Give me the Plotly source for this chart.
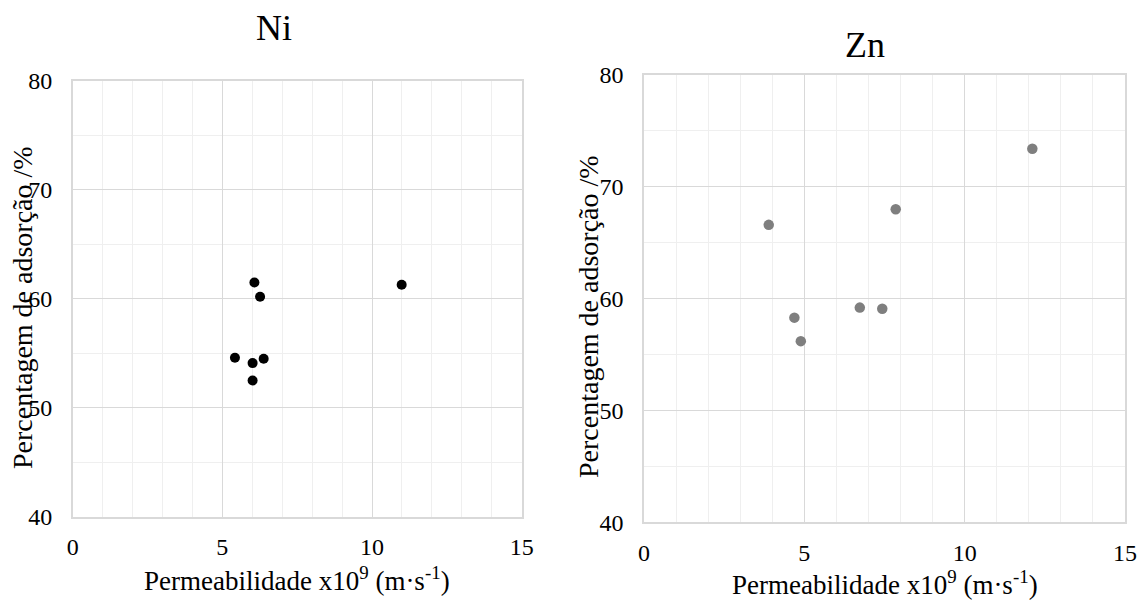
import plotly.graph_objects as go

# Data
ni_x = [6.07, 6.26, 10.99, 5.42, 6.01, 6.38, 6.01]
ni_y = [61.5, 60.2, 61.3, 54.6, 54.1, 54.5, 52.5]
zn_x = [12.11, 7.85, 3.89, 6.73, 7.43, 4.69, 4.89]
zn_y = [73.4, 68.0, 66.6, 59.2, 59.1, 58.3, 56.2]

titles = ["Ni", "Zn"]
x_title = "Permeabilidade x10<sup>9</sup> (m·s<sup>-1</sup>)"
y_title = "Percentagem de adsorção /%"

FONT = "Liberation Serif"
W, H = 1140, 601

fig = go.Figure()
fig.add_trace(go.Scatter(x=ni_x, y=ni_y, mode="markers",
                         marker=dict(color="#000000", size=10),
                         xaxis="x", yaxis="y", showlegend=False))
fig.add_trace(go.Scatter(x=zn_x, y=zn_y, mode="markers",
                         marker=dict(color="#7f7f7f", size=10.5),
                         xaxis="x2", yaxis="y2", showlegend=False))

def px_x(p):
    return p / W

def px_y(p):
    return (H - p) / H

grid_major = "#d9d9d9"
grid_minor = "#efefef"

def xax(domain, anchor):
    return dict(domain=domain, anchor=anchor, range=[0, 15], dtick=5, tick0=0,
                showgrid=True, gridcolor=grid_major, gridwidth=1.3,
                minor=dict(dtick=1, showgrid=True, gridcolor=grid_minor, gridwidth=1.3),
                showline=True, linecolor=grid_major, linewidth=1.5, mirror=True,
                zeroline=False, ticks="", ticklabelstandoff=8, automargin=False,
                tickfont=dict(family=FONT, size=24, color="#000000"))

def yax(domain, anchor):
    return dict(domain=domain, anchor=anchor, range=[40, 80], dtick=10, tick0=40,
                showgrid=True, gridcolor=grid_major, gridwidth=1.3,
                minor=dict(dtick=5, showgrid=True, gridcolor=grid_minor, gridwidth=1.3),
                showline=True, linecolor=grid_major, linewidth=1.5, mirror=True,
                zeroline=False, ticks="", ticklabelstandoff=14, automargin=False,
                tickfont=dict(family=FONT, size=24, color="#000000"))

fig.update_layout(
    width=W, height=H,
    margin=dict(l=0, r=0, t=0, b=0, pad=0, autoexpand=False),
    paper_bgcolor="white", plot_bgcolor="white",
    font=dict(family=FONT, color="#000000"),
    xaxis=xax([px_x(72.7), px_x(521.7)], "y"),
    yaxis=yax([px_y(516.7), px_y(81)], "x"),
    xaxis2=xax([px_x(644), px_x(1125)], "y2"),
    yaxis2=yax([px_y(522.3), px_y(75)], "x2"),
)

annots = [
    dict(text=titles[0], x=px_x(274), y=px_y(28), font=dict(size=36)),
    dict(text=titles[1], x=px_x(865), y=px_y(45), font=dict(size=36)),
    dict(text=x_title, x=px_x(297), y=px_y(579), font=dict(size=27)),
    dict(text=x_title, x=px_x(885), y=px_y(583), font=dict(size=27)),
    dict(text=y_title, x=px_x(22), y=px_y(308), font=dict(size=28), textangle=-90),
    dict(text=y_title, x=px_x(588), y=px_y(317), font=dict(size=28), textangle=-90),
]
for a in annots:
    a["font"]["family"] = FONT
    a["font"]["color"] = "#000000"
    fig.add_annotation(xref="paper", yref="paper", showarrow=False,
                       xanchor="center", yanchor="middle", **a)

fig.write_html("out.html")
